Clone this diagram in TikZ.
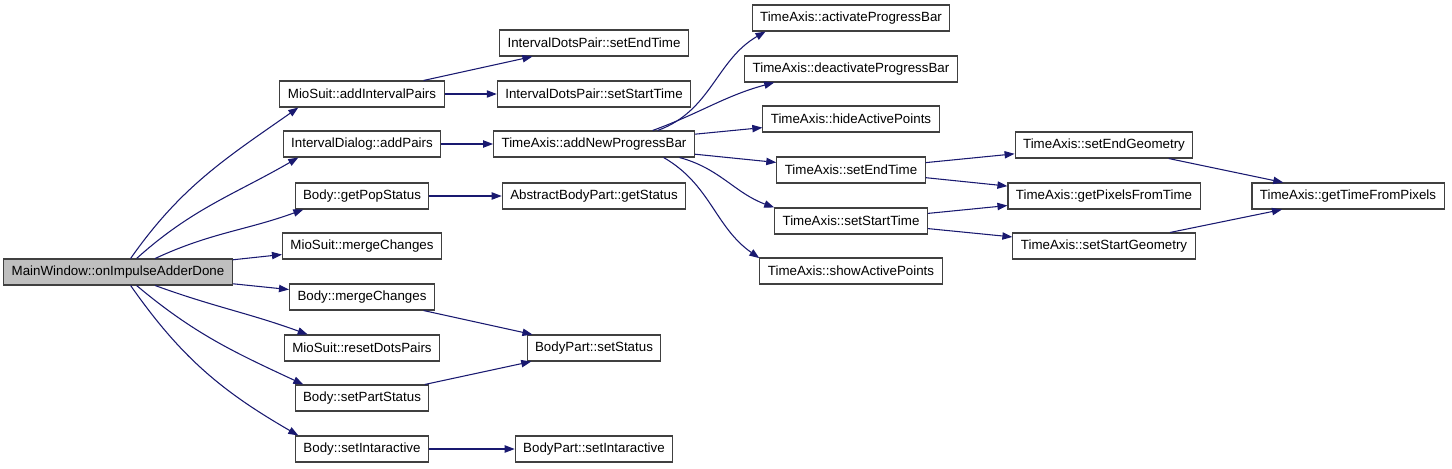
\documentclass[tikz,border=0pt]{standalone}
\usepackage{fontspec}
\setmainfont{Liberation Sans}
\usepackage{tikz}
\usetikzlibrary{arrows.meta}
\definecolor{edgeblue}{HTML}{191970}
\definecolor{rootgray}{HTML}{BFBFBF}
\definecolor{boxline}{HTML}{404040}

\begin{document}
\begin{tikzpicture}[
  x=0.75pt, y=-0.75pt,
  fn/.style={
    rectangle, draw=boxline, fill=white, line width=0.8pt,
    minimum height=19.5pt, inner xsep=6pt, inner ysep=0pt,
    font=\fontsize{10}{12}\selectfont
  },
  root/.style={fn, fill=rootgray},
  call/.style={-{Triangle[length=7.5pt, width=5.5pt]}, line width=0.8pt, color=edgeblue}
]
  \useasboundingbox (0,0) rectangle (1452,468);

  \node[root] (main) at (118,272) {MainWindow::onImpulseAdderDone};

  \node[fn] (mioAdd)   at (362,94)  {MioSuit::addIntervalPairs};
  \node[fn] (dlgAdd)   at (362,144) {IntervalDialog::addPairs};
  \node[fn] (popStat)  at (362,196) {Body::getPopStatus};
  \node[fn] (mioMerge) at (362,246) {MioSuit::mergeChanges};
  \node[fn] (bodMerge) at (362,297) {Body::mergeChanges};
  \node[fn] (mioReset) at (362,348) {MioSuit::resetDotsPairs};
  \node[fn] (partStat) at (362,398) {Body::setPartStatus};
  \node[fn] (bodInter) at (362,449) {Body::setIntaractive};

  \node[fn] (idpEnd)   at (594,43)  {IntervalDotsPair::setEndTime};
  \node[fn] (idpStart) at (594,94)  {IntervalDotsPair::setStartTime};
  \node[fn] (newBar)   at (594,144) {TimeAxis::addNewProgressBar};
  \node[fn] (getStat)  at (594,196) {AbstractBodyPart::getStatus};
  \node[fn] (setStat)  at (594,348) {BodyPart::setStatus};
  \node[fn] (bpInter)  at (594,449) {BodyPart::setIntaractive};

  \node[fn] (actBar)   at (851,18)  {TimeAxis::activateProgressBar};
  \node[fn] (deactBar) at (851,69)  {TimeAxis::deactivateProgressBar};
  \node[fn] (hidePts)  at (851,119) {TimeAxis::hideActivePoints};
  \node[fn] (taEnd)    at (851,170) {TimeAxis::setEndTime};
  \node[fn] (taStart)  at (851,221) {TimeAxis::setStartTime};
  \node[fn] (showPts)  at (851,271) {TimeAxis::showActivePoints};

  \node[fn] (endGeo)   at (1104,145) {TimeAxis::setEndGeometry};
  \node[fn] (pixTime)  at (1104,196) {TimeAxis::getPixelsFromTime};
  \node[fn] (startGeo) at (1104,246) {TimeAxis::setStartGeometry};
  \node[fn] (timePix)  at (1348,196) {TimeAxis::getTimeFromPixels};

  \draw[call] (main.47) to[out=55, in=215] (mioAdd.192);
  \draw[call] (main.36) to[out=42, in=210] (dlgAdd.192);
  \draw[call] (main.20) to[out=25, in=200] (popStat.193);
  \draw[call] (main) -- (mioMerge);
  \draw[call] (main) -- (bodMerge);
  \draw[call] (main.-20) to[out=-20, in=160] (mioReset.166);
  \draw[call] (main.-36) to[out=-40, in=155] (partStat.167);
  \draw[call] (main.-47) to[out=-55, in=150] (bodInter.168);

  \draw[call] (mioAdd) -- (idpEnd);
  \draw[call] (mioAdd) -- (idpStart);
  \draw[call] (dlgAdd) -- (newBar);
  \draw[call] (popStat) -- (getStat);
  \draw[call] (bodMerge) -- (setStat);
  \draw[call] (partStat) -- (setStat);
  \draw[call] (bodInter) -- (bpInter);

  \draw[call] (newBar.12) to[out=20, in=210] (actBar.189);
  \draw[call] (newBar.13) to[out=20, in=195] (deactBar.190);
  \draw[call] (newBar) -- (hidePts);
  \draw[call] (newBar) -- (taEnd);
  \draw[call] (newBar.-9) to[out=-15, in=160] (taStart.170);
  \draw[call] (newBar.-11) to[out=-30, in=145] (showPts.172);

  \draw[call] (taEnd) -- (endGeo);
  \draw[call] (taEnd) -- (pixTime);
  \draw[call] (taStart) -- (pixTime);
  \draw[call] (taStart) -- (startGeo);
  \draw[call] (endGeo) -- (timePix);
  \draw[call] (startGeo) -- (timePix);
\end{tikzpicture}
\end{document}
